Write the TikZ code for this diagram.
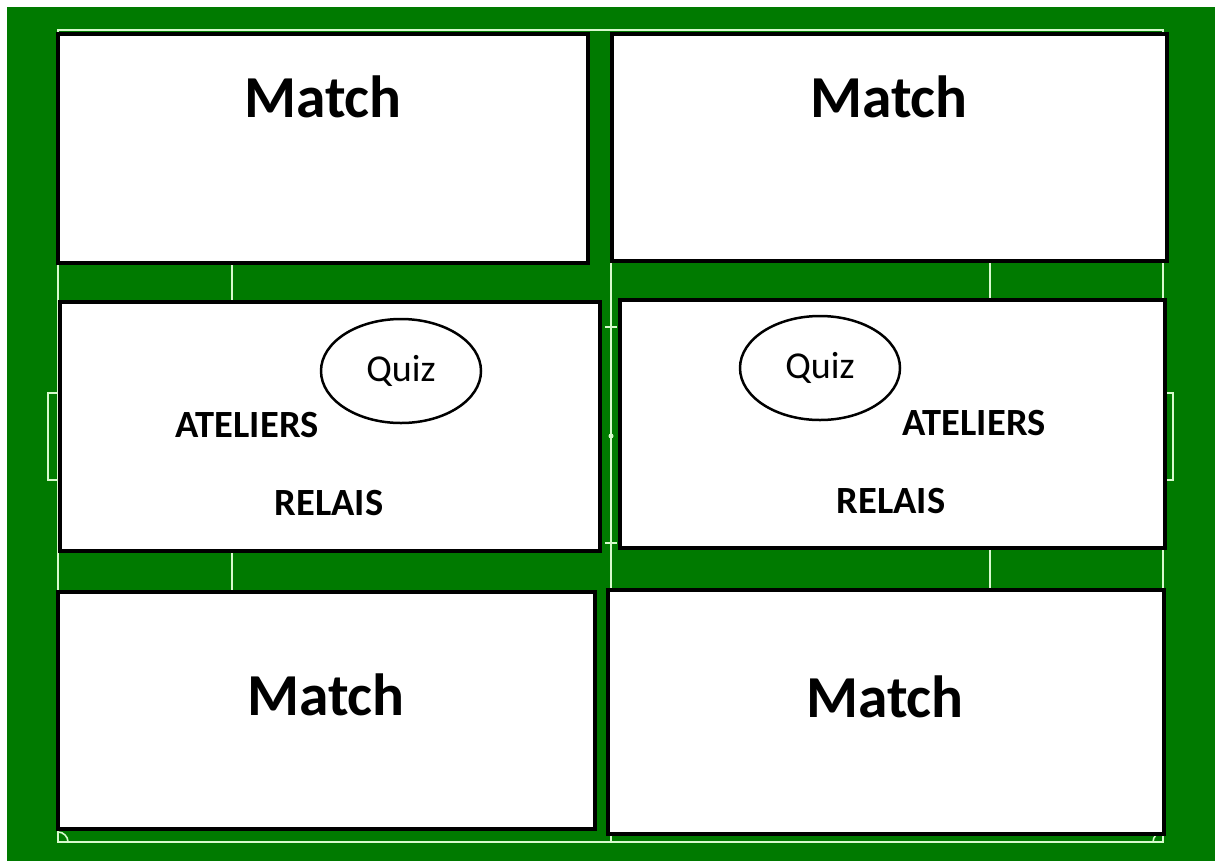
\documentclass[tikz,border=0pt]{standalone}
\usepackage{fontspec}
\setmainfont{Carlito}
\usetikzlibrary{shapes.geometric, positioning}
\definecolor{pitch}{RGB}{0,122,0}
\definecolor{chalk}{RGB}{215,250,205}

\begin{document}
\begin{tikzpicture}[
    x=1pt, y=-1pt,
    zone/.style={rectangle, draw=black, fill=white, line width=4pt,
                 anchor=north west, inner sep=0pt, outer sep=0pt},
    quiz/.style={ellipse, draw=black, fill=white, line width=2.5pt,
                 minimum width=160pt, minimum height=104pt, inner sep=0pt,
                 font=\fontsize{38}{44}\selectfont},
    matchtxt/.style={anchor=base, font=\fontsize{59.5}{70}\selectfont\bfseries},
    tag/.style={anchor=base, font=\fontsize{38.5}{46}\selectfont\bfseries},
    line/.style={draw=chalk, line width=1.6pt},
]
% pitch
\useasboundingbox (0,0) rectangle (1218,863);
\fill[white] (0,0) rectangle (1218,863);
\fill[pitch] (7,7) rectangle (1215,861);
\draw[line] (58,30) rectangle (1163,842);
\draw[line] (611,262) -- (611,842);
\draw[line] (232,262) -- (232,594);
\draw[line] (990,262) -- (990,594);
\draw[line] (58,393) -- (48,393) -- (48,480) -- (58,480);
\draw[line] (1163,393) -- (1173,393) -- (1173,480) -- (1163,480);
\draw[line] (605,327) -- (617,327);
\draw[line] (605,543) -- (617,543);
\fill[chalk] (611,436) circle (2.5pt);
\draw[line] (58,832) arc[start angle=90, end angle=0, radius=10pt];
\draw[line] (1163,832) arc[start angle=90, end angle=180, radius=10pt];

% zones
\node[zone, minimum width=530pt, minimum height=229pt] (tl) at (58,34) {};
\node[zone, minimum width=555pt, minimum height=227pt] (tr) at (612,34) {};
\node[zone, minimum width=540pt, minimum height=249pt] (ml) at (60,302) {};
\node[zone, minimum width=545pt, minimum height=248pt] (mr) at (620,300) {};
\node[zone, minimum width=537pt, minimum height=237pt] (bl) at (58,592) {};
\node[zone, minimum width=556pt, minimum height=244pt] (br) at (608,590) {};

\node[matchtxt] (m1) at (323,117) {Match};
\node[matchtxt] (m2) at (889,117) {Match};
\node[matchtxt] (m3) at (326,715) {Match};
\node[matchtxt] (m4) at (885,717) {Match};

% left workshop area
\node[quiz] (q1) at (401,371) {Quiz};
\node[tag] (a1) at (247,437) {ATELIERS};
\node[tag] (r1) at (329,515) {RELAIS};

% right workshop area
\node[quiz] (q2) at (820,368) {Quiz};
\node[tag] (a2) at (974,435) {ATELIERS};
\node[tag] (r2) at (891,513) {RELAIS};
\end{tikzpicture}
\end{document}
